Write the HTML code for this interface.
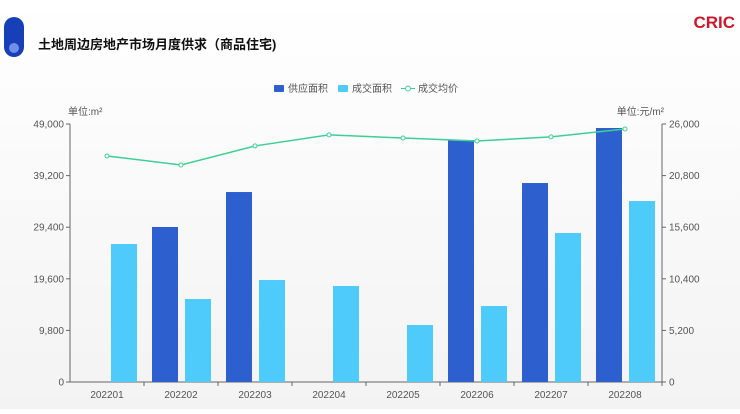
<!DOCTYPE html>
<html><head><meta charset="utf-8"><style>
body{margin:0;background:#fff;}
svg text{font-family:"Liberation Sans","Noto Sans CJK SC",sans-serif;}
</style></head><body>
<svg width="740" height="409" xmlns="http://www.w3.org/2000/svg">
<defs><linearGradient id="bg" x1="0" y1="0" x2="0" y2="1"><stop offset="0" stop-color="#ffffff"/><stop offset="1" stop-color="#f3f3f3"/></linearGradient></defs>
<rect width="740" height="409" fill="url(#bg)"/>
<rect x="4" y="17" width="20" height="40" rx="10" fill="#1740b8"/>
<circle cx="14" cy="48" r="5" fill="#6f8fe8"/>
<text x="38" y="49" font-size="13" font-weight="bold" fill="#111">土地周边房地产市场月度供求（商品住宅)</text>
<text x="735" y="28" font-size="17" font-weight="bold" fill="#d0172b" text-anchor="end">CRIC</text>
<g id="legend" font-size="10" fill="#555">
<rect x="274" y="85" width="10" height="7" rx="1" fill="#2e5fcf"/>
<text x="288" y="92">供应面积</text>
<rect x="338" y="85" width="10" height="7" rx="1" fill="#4ecbfb"/>
<text x="352" y="92">成交面积</text>
<line x1="401" y1="88.5" x2="415" y2="88.5" stroke="#3ecf94"/>
<circle cx="408" cy="88.5" r="2.5" fill="#fff" stroke="#3ecf94"/>
<text x="418" y="92">成交均价</text>
</g>
<text x="68" y="115" font-size="10" fill="#555">单位:m²</text>
<text x="664" y="115" font-size="10" fill="#555" text-anchor="end">单位:元/m²</text>
<g id="axes"></g>
<g id="marks"></g>
</svg>
<script>
const categories=["202201","202202","202203","202204","202205","202206","202207","202208"];
const supply=[0,29440,36080,0,0,45960,37790,48240];
const dealArea=[26210,15760,19370,18230,10820,14430,28300,34370];
const dealPrice=[22780,21870,23790,24900,24590,24290,24700,25500];
const leftTicks=[0,9800,19600,29400,39200,49000];
const rightTicks=[0,5200,10400,15600,20800,26000];
const NS="http://www.w3.org/2000/svg";
const X0=70,X1=662,Y0=382,Y1=124,band=(X1-X0)/categories.length;
const yL=v=>Y0-(v/49000)*(Y0-Y1);
const yR=v=>Y0-(v/26000)*(Y0-Y1);
function mk(tag,attrs,parent){const e=document.createElementNS(NS,tag);for(const k in attrs)e.setAttribute(k,attrs[k]);parent.appendChild(e);return e;}
const axes=document.getElementById('axes'),marks=document.getElementById('marks');
const fmt=v=>v.toLocaleString('en-US');
let e;
e=mk('line',{x1:X0,y1:Y1,x2:X0,y2:Y0,stroke:'#666'},axes);


e=mk('line',{x1:X1,y1:Y1,x2:X1,y2:Y0,stroke:'#666'},axes);


e=mk('line',{x1:X0,y1:Y0,x2:X1,y2:Y0,stroke:'#666'},axes);


leftTicks.forEach(t=>{const y=yL(t);
 mk('line',{x1:X0-4,y1:y,x2:X0,y2:y,stroke:'#666'},axes);
 e=mk('text',{x:X0-6,y:y+3.5,'font-size':10,fill:'#555','text-anchor':'end'},axes);e.textContent=fmt(t);
 
 });
rightTicks.forEach(t=>{const y=yR(t);
 mk('line',{x1:X1,y1:y,x2:X1+4,y2:y,stroke:'#666'},axes);
 e=mk('text',{x:X1+7,y:y+3.5,'font-size':10,fill:'#555'},axes);e.textContent=fmt(t);
 
 });
categories.forEach((c,i)=>{const bx=X0+i*band;
 mk('line',{x1:bx+band,y1:Y0,x2:bx+band,y2:Y0+4,stroke:'#666'},axes);
 e=mk('text',{x:bx+band/2,y:Y0+16,'font-size':10,fill:'#555','text-anchor':'middle'},axes);e.textContent=c;
 
 
 const s=supply[i];
 e=mk('rect',{x:bx+8,y:yL(s),width:26,height:Y0-yL(s),fill:'#2e5fcf'},marks);
 
 
 const d=dealArea[i];
 e=mk('rect',{x:bx+41,y:yL(d),width:26,height:Y0-yL(d),fill:'#4ecbfb'},marks);
 
 
});
const pts=dealPrice.map((v,i)=>[X0+(i+0.5)*band,yR(v)]);
e=mk('polyline',{points:pts.map(p=>p.join(',')).join(' '),fill:'none',stroke:'#3ecf94','stroke-width':1.5},marks);


pts.forEach((p,i)=>{e=mk('circle',{cx:p[0],cy:p[1],r:2,fill:'#fff',stroke:'#3ecf94'},marks);
 
 });
</script>
</body></html>
